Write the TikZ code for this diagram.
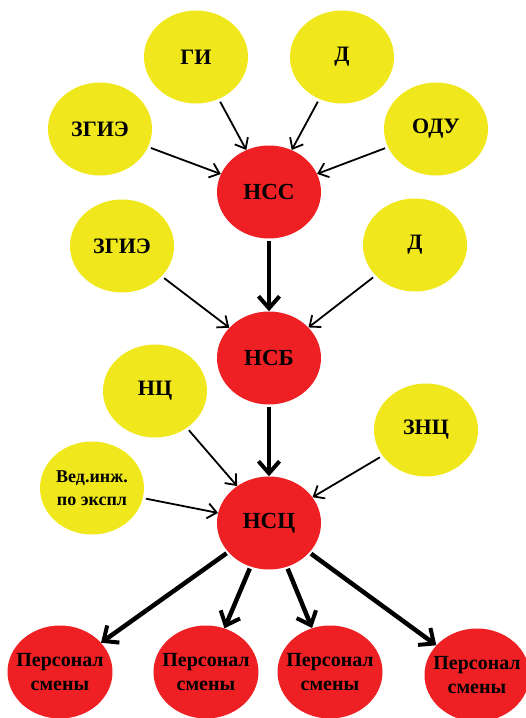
\documentclass[tikz,border=0pt]{standalone}
\usepackage{fontspec}
\setmainfont{Liberation Serif}
\usetikzlibrary{shapes.geometric,arrows.meta}
\definecolor{yel}{HTML}{F0E81C}
\definecolor{rd}{HTML}{EE2024}
\tikzset{
  blob/.style={ellipse,minimum width=104pt,minimum height=93pt,inner sep=0pt},
  ybox/.style={blob,fill=yel},
  rbox/.style={blob,fill=rd},
  ytext/.style={font=\bfseries\fontsize{22}{24}\selectfont,align=center,inner sep=0pt},
  rtext/.style={font=\bfseries\fontsize{23}{26}\selectfont,align=center,inner sep=0pt},
  vtext/.style={font=\bfseries\fontsize{18}{23}\selectfont,align=center,inner sep=0pt},
  ptext/.style={font=\bfseries\fontsize{20}{24}\selectfont,align=center,inner sep=0pt},
  thin/.style={line width=1.8pt,-{Straight Barb[length=9pt,width=15pt,line width=1.8pt]},shorten <=3pt},
  thick/.style={line width=4.5pt,-{Straight Barb[length=12pt,width=21pt,line width=4pt]},shorten <=2pt}
}
\begin{document}
\begin{tikzpicture}[x=1pt,y=-1pt]
\useasboundingbox (0,0) rectangle (526,718);
\node[ybox,label={[ytext]center:ГИ}] (gi) at (196,57) {};
\node[ybox,label={[ytext]center:Д}] (d1) at (342,57) {};
\node[ybox,label={[ytext]center:ЗГИЭ}] (zg1) at (100,129) {};
\node[ybox,label={[ytext]center:ОДУ}] (odu) at (436,129) {};
\node[rbox,label={[rtext]center:НСС}] (nss) at (269,192) {};
\node[ybox,label={[ytext]center:ЗГИЭ}] (zg2) at (122,246) {};
\node[ybox,label={[ytext]center:Д}] (d2) at (415,245) {};
\node[rbox,label={[rtext]center:НСБ}] (nsb) at (269,358) {};
\node[ybox,label={[ytext]center:НЦ}] (nc) at (155,391) {};
\node[ybox,label={[ytext]center:ЗНЦ}] (znc) at (426,430) {};
\node[ybox,label={[vtext]center:Вед.инж.\\по экспл}] (ved) at (92,488) {};
\node[rbox,label={[rtext]center:НСЦ}] (nsc) at (269,523) {};
\node[rbox,minimum width=105pt,label={[ptext]center:Персонал\\смены}] (p1) at (60,672) {};
\node[rbox,minimum width=105pt,label={[ptext]center:Персонал\\смены}] (p2) at (206,672) {};
\node[rbox,minimum width=105pt,label={[ptext]center:Персонал\\смены}] (p3) at (330,672) {};
\node[rbox,minimum width=105pt,label={[ptext]center:Персонал\\смены}] (p4) at (477,675) {};
\draw[thin] (gi) -- (nss);
\draw[thin] (d1) -- (nss);
\draw[thin] (zg1) -- (nss);
\draw[thin] (odu) -- (nss);
\draw[thin] (zg2) -- (nsb);
\draw[thin] (d2) -- (nsb);
\draw[thin] (nc) -- (nsc);
\draw[thin] (znc) -- (nsc);
\draw[thin] (ved) -- (nsc);
\draw[thick] (nss) -- (nsb);
\draw[thick] (nsb) -- (nsc);
\draw[thick] (nsc) -- (p1);
\draw[thick] (nsc) -- (p2);
\draw[thick] (nsc) -- (p3);
\draw[thick] (nsc) -- (p4);
\end{tikzpicture}
\end{document}
